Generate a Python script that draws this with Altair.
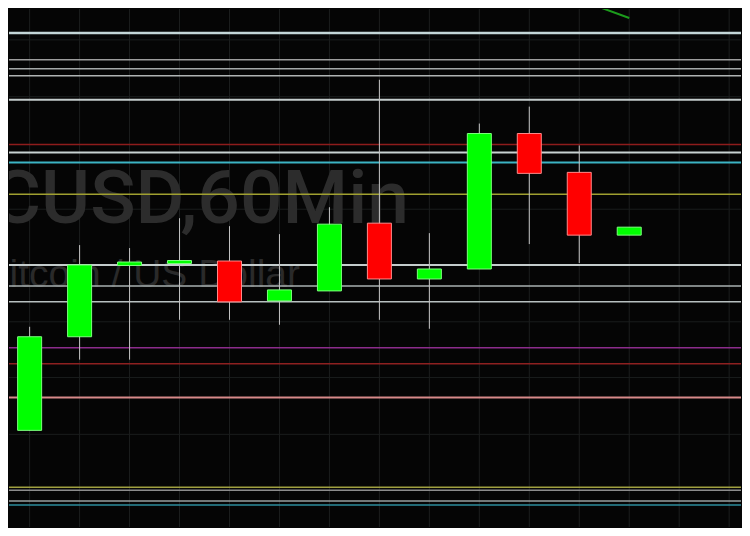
import altair as alt
import pandas as pd

# Candles (index, prices; 1 price unit ~ 1 px)
idx = list(range(13))
opens = [11069, 11163, 11234.5, 11236.5, 11239, 11199, 11209, 11277, 11221, 11231, 11367, 11328, 11265]
highs = [11173, 11255, 11252, 11282, 11274, 11266, 11293, 11421, 11267, 11377, 11394, 11355, 11273]
lows = [11069, 11140, 11140, 11180, 11180, 11175, 11209, 11180, 11171, 11231, 11256, 11237, 11265]
closes = [11163, 11235, 11238, 11239.5, 11198, 11210, 11276, 11221, 11231, 11367, 11327, 11265, 11273]

# Horizontal support / resistance levels
levels = [11468, 11441, 11432, 11425, 11401, 11356, 11348, 11338, 11306, 11235,
          11214, 11198, 11152, 11136, 11102, 11012, 11009, 10998, 10994, 10968]
level_colors = ["#c4d6d8", "#9c9c9c", "#a4a8a8", "#b0b4b4", "#c4cccc", "#8e1c1c", "#c8d2d2",
                "#3cb4c4", "#a0a030", "#c4cccc", "#a8b0b0", "#b8c0c0", "#8c2c8c", "#8e2020",
                "#d88a8a", "#a0a040", "#8c8c8c", "#98a0a0", "#2c8c9c", "#a0a8a8"]
level_widths = [2.5, 1.5, 1.5, 1.5, 2, 1.5, 2, 2, 1.5, 2, 1.5, 1.5, 1.5, 1.5, 2, 1.5, 1.5, 1.5, 1.5, 2]

# Faint grid
vgrid = list(range(15))
hgrid = [11461, 11404, 11348, 11291, 11235, 11178, 11122, 11065, 11009]

# Green trend line segment at top
trend_i = [10.85, 12.0]
trend_p = [11504, 11483]

title_text = "BTCUSD,60Min"
subtitle_text = "Bitcoin / US Dollar"

xs = alt.Scale(domain=[-0.413, 14.237], nice=False, zero=False, padding=0)
ys = alt.Scale(domain=[10972, 11492], nice=False, zero=False, padding=0)

candles = pd.DataFrame({"i": idx, "open": opens, "high": highs, "low": lows, "close": closes})
candles["dir"] = ["up" if c >= o else "down" for o, c in zip(opens, closes)]

lv = pd.DataFrame({"p": levels, "c": level_colors, "w": level_widths})

vg = alt.Chart(pd.DataFrame({"i": vgrid})).mark_rule(color="#1c1e1e", strokeWidth=1).encode(
    x=alt.X("i:Q", scale=xs, axis=None))
hg = alt.Chart(pd.DataFrame({"p": hgrid})).mark_rule(color="#1a1d1d", strokeWidth=1).encode(
    y=alt.Y("p:Q", scale=ys, axis=None))

title = alt.Chart(pd.DataFrame({"t": [title_text]})).mark_text(
    font="Roboto", fontSize=75, fontWeight=500, color="#2c2c2c", align="right",
    baseline="alphabetic", clip=True).encode(text="t:N", x=alt.value(400), y=alt.value(214))
subtitle = alt.Chart(pd.DataFrame({"t": [subtitle_text]})).mark_text(
    font="Liberation Sans", fontSize=39, color="#2a2a2a", align="right",
    baseline="alphabetic", clip=True).encode(text="t:N", x=alt.value(291), y=alt.value(278))

lines = alt.Chart(lv).mark_rule(clip=True).encode(
    y=alt.Y("p:Q", scale=ys, axis=None),
    color=alt.Color("c:N", scale=None, legend=None),
    strokeWidth=alt.StrokeWidth("w:Q", scale=None, legend=None))

trend = alt.Chart(pd.DataFrame({"i": trend_i, "p": trend_p})).mark_line(
    color="#1c9c1c", strokeWidth=2, clip=True).encode(
    x=alt.X("i:Q", scale=xs, axis=None), y=alt.Y("p:Q", scale=ys, axis=None))

wicks = alt.Chart(candles).mark_rule(color="#c4c4c4", strokeWidth=1).encode(
    x=alt.X("i:Q", scale=xs, axis=None),
    y=alt.Y("low:Q", scale=ys, axis=None), y2="high:Q")

bodies = alt.Chart(candles).mark_bar(size=24, strokeWidth=1).encode(
    x=alt.X("i:Q", scale=xs, axis=None),
    y=alt.Y("open:Q", scale=ys, axis=None), y2="close:Q",
    fill=alt.Fill("dir:N", scale=alt.Scale(domain=["up", "down"], range=["#00ff00", "#ff0000"]), legend=None),
    stroke=alt.Stroke("dir:N", scale=alt.Scale(domain=["up", "down"], range=["#7dff7d", "#ff8a8a"]), legend=None))

chart = alt.layer(vg, hg, title, subtitle, lines, trend, wicks, bodies).properties(
    width=734, height=520,
    autosize=alt.AutoSizeParams(type="fit", contains="padding"),
    padding=0, background="#050505"
).configure_view(stroke=None, fill="#050505")

chart.save("out.html", embed_options={"renderer": "svg", "actions": False})
